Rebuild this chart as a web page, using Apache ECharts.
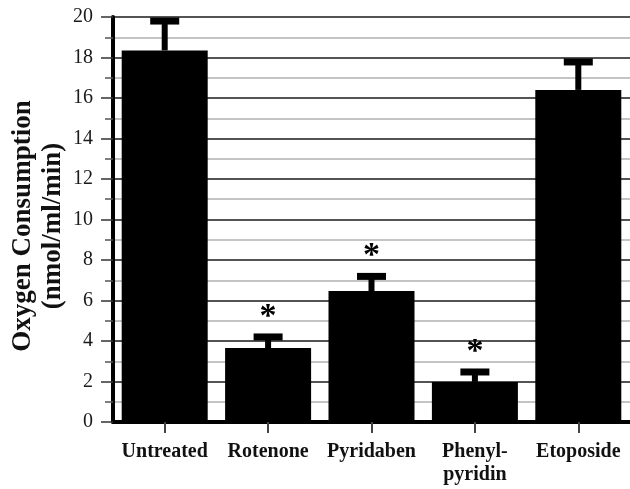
<!DOCTYPE html>
<html>
<head>
<meta charset="utf-8">
<script src="https://cdn.jsdelivr.net/npm/echarts@6/dist/echarts.min.js"></script>
<style>html,body{margin:0;padding:0;background:#fff;}#c{width:630px;height:489px;}</style>
</head>
<body>
<div id="c"></div>
<script>
var categories = ['Untreated', 'Rotenone', 'Pyridaben', 'Phenyl-\npyridin', 'Etoposide'];
var means = [18.35, 3.65, 6.47, 1.98, 16.4];
var errors = [1.45, 0.55, 0.72, 0.49, 1.38];
var significant = [0, 1, 1, 1, 0];
var yTicks = [0, 2, 4, 6, 8, 10, 12, 14, 16, 18, 20];

var serif = '"Liberation Serif", "Times New Roman", serif';
var chart = echarts.init(document.getElementById('c'), null, {renderer: 'canvas'});
var errData = categories.map(function (c, i) { return [i, means[i], errors[i], significant[i]]; });

chart.setOption({
  backgroundColor: '#fff',
  animation: false,
  grid: {left: 113, width: 520, top: 17, height: 405, containLabel: false},
  xAxis: {
    type: 'category',
    data: categories,
    axisLine: {show: true, lineStyle: {color: '#000', width: 4}},
    axisTick: {show: true, alignWithLabel: true, length: 11, lineStyle: {color: '#444', width: 2}},
    axisLabel: {interval: 0, margin: 18, color: '#111', fontFamily: serif, fontWeight: 'bold', fontSize: 20, lineHeight: 23},
    splitLine: {show: false}
  },
  yAxis: {
    type: 'value',
    min: yTicks[0], max: yTicks[yTicks.length - 1], interval: 2,
    axisLine: {show: true, lineStyle: {color: '#000', width: 4}},
    axisTick: {show: true, length: 12, lineStyle: {color: '#333', width: 1.5}},
    minorTick: {show: true, splitNumber: 2, length: 8, lineStyle: {color: '#555', width: 1.5}},
    axisLabel: {margin: 20, color: '#1a1a1a', fontFamily: serif, fontSize: 20},
    splitLine: {show: true, lineStyle: {color: '#1a1a1a', width: 1.5}},
    minorSplitLine: {show: true, lineStyle: {color: '#c4c4c4', width: 2}}
  },
  graphic: [{
    type: 'text',
    x: 38, y: 226,
    rotation: Math.PI / 2,
    style: {
      text: 'Oxygen Consumption\n(nmol/ml/min)',
      font: 'bold 27px ' + serif,
      fill: '#111',
      align: 'center',
      verticalAlign: 'middle',
      lineHeight: 30
    }
  }],
  series: [{
    type: 'bar',
    data: means,
    barWidth: 86,
    itemStyle: {color: '#000'},
    z: 3
  }, {
    type: 'custom',
    data: errData,
    z: 4,
    clip: false,
    renderItem: function (params, api) {
      var idx = api.value(0), m = api.value(1), e = api.value(2), s = api.value(3);
      var pBar = api.coord([idx, m]);
      var pTop = api.coord([idx, m + e]);
      var children = [
        {type: 'rect', shape: {x: pBar[0] - 3, y: pTop[1], width: 6, height: pBar[1] - pTop[1]}, style: {fill: '#000'}},
        {type: 'rect', shape: {x: pBar[0] - 14.5, y: pTop[1] - 3.5, width: 29, height: 7}, style: {fill: '#000'}}
      ];
      if (s) {
        children.push({type: 'text', x: pBar[0], y: pTop[1] - 20, style: {text: '*', font: 'bold 34px ' + serif, fill: '#000', align: 'center', verticalAlign: 'middle'}});
      }
      return {type: 'group', children: children};
    }
  }]
});
</script>
</body>
</html>
